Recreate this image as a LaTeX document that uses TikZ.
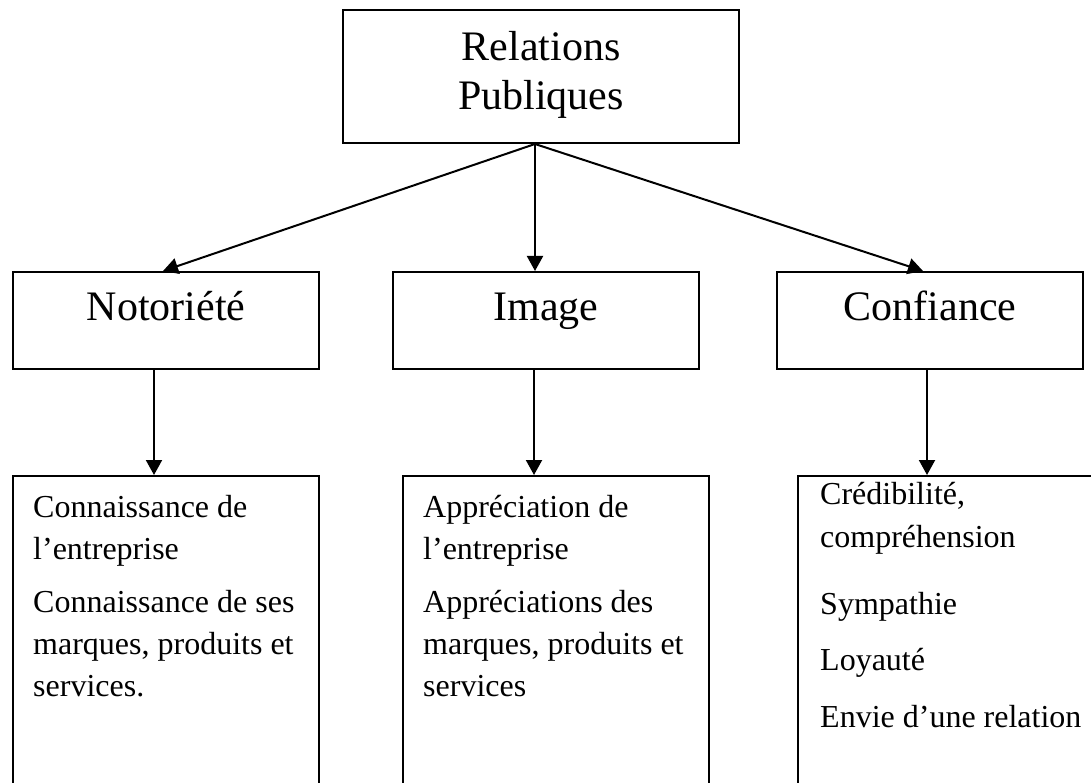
\documentclass[tikz,border=0pt]{standalone}
\usepackage{fontspec}
\setmainfont{Liberation Serif}
\usetikzlibrary{arrows.meta,calc}
\begin{document}
\begin{tikzpicture}[x=1pt,y=-1pt,
  box/.style={draw=black,line width=2pt,rectangle,inner sep=0pt},
  big/.style={font=\fontsize{42}{49}\selectfont,inner sep=0pt,anchor=base},
  small/.style={font=\fontsize{32}{42}\selectfont,inner sep=0pt,anchor=base west},
  arr/.style={line width=2pt,-{Triangle[length=15pt,width=16pt]}}]
\useasboundingbox (0,0) rectangle (1091,783);
\clip (0,0) rectangle (1091,783);
% boxes
\node[box,minimum width=396pt,minimum height=133pt] (top) at (541,76.5) {};
\node[box,minimum width=306pt,minimum height=97pt] (notor) at (166,320.5) {};
\node[box,minimum width=306pt,minimum height=97pt] (image) at (546,320.5) {};
\node[box,minimum width=306pt,minimum height=97pt] (conf) at (930,320.5) {};
\node[box,minimum width=306pt,minimum height=340pt] (bl) at (166,646) {};
\node[box,minimum width=306pt,minimum height=340pt] (bm) at (556,646) {};
\node[box,minimum width=320pt,minimum height=340pt] (br) at (958,646) {};
% titles
\node[big] (t1) at (541,61) {Relations};
\node[big] (t2) at (541,110) {Publiques};
\node[big] (n1) at (166,320) {Notoriété};
\node[big] (i1) at (546,320) {Image};
\node[big] (c1) at (930,320) {Confiance};
% left contents
\node[small] (la1) at (33,517) {Connaissance de};
\node[small] (la2) at (33,559) {l’entreprise};
\node[small] (la3) at (33,612) {Connaissance de ses};
\node[small] (la4) at (33,654) {marques, produits et};
\node[small] (la5) at (33,696) {services.};
% middle contents
\node[small] (ma1) at (423,517) {Appréciation de};
\node[small] (ma2) at (423,559) {l’entreprise};
\node[small] (ma3) at (423,612) {Appréciations des};
\node[small] (ma4) at (423,654) {marques, produits et};
\node[small] (ma5) at (423,696) {services};
% right contents
\node[small] (ra1) at (820,504) {Crédibilité,};
\node[small] (ra2) at (820,547) {compréhension};
\node[small] (ra3) at (820,614) {Sympathie};
\node[small] (ra4) at (820,670) {Loyauté};
\node[small] (ra5) at (820,727) {Envie d’une relation};
% connectors
\coordinate (apex) at ($(top.south)+(-6,0)$);
\draw[arr] (apex) -- ($(notor.north)+(-3,0)$);
\draw[arr] (apex) -- ($(image.north)+(-11,0)$);
\draw[arr] (apex) -- ($(conf.north)+(-7,0)$);
\draw[arr] ($(notor.south)+(-12,0)$) -- ($(bl.north)+(-12,0)$);
\draw[arr] ($(image.south)+(-12,0)$) -- ($(bm.north)+(-22,0)$);
\draw[arr] ($(conf.south)+(-3,0)$) -- ($(br.north)+(-31,0)$);
\end{tikzpicture}
\end{document}
